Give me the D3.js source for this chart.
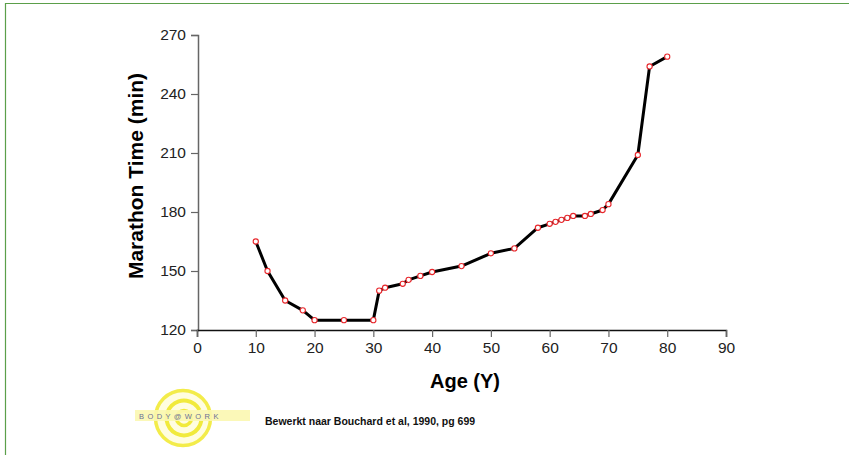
<!DOCTYPE html>
<html>
<head>
<meta charset="utf-8">
<script src="https://cdn.jsdelivr.net/npm/d3@7"></script>
<style>
  body { margin: 0; background: #fff; }
  text { font-family: "Liberation Sans", Arial, sans-serif; }
</style>
</head>
<body>
<div class="chart-area"></div>
<script>
// data
var ages = [10, 12, 15, 18, 20, 25, 30, 31, 32, 35, 36, 38, 40, 45, 50, 54, 58, 60, 61, 62, 63, 64, 66, 67, 69, 70, 75, 77, 80];
var times = [165, 150, 135, 130, 125, 125, 125, 140, 141.5, 143.5, 145.5, 147.5, 149.5, 152.5, 159, 161.5, 172, 174, 175, 176, 177, 178, 178, 179, 181, 184, 209, 254, 259];
var xTicks = [0, 10, 20, 30, 40, 50, 60, 70, 80, 90];
var yTicks = [120, 150, 180, 210, 240, 270];

var points = ages.map(function(a, i) { return {age: a, time: times[i]}; });

var svg = d3.select(".chart-area").append("svg")
    .attr("width", 849)
    .attr("height", 455);

// green frame on top and left
svg.append("line").attr("x1", 5).attr("x2", 849).attr("y1", 3.5).attr("y2", 3.5)
    .attr("stroke", "#5b9f4a").attr("stroke-width", 1.2);
svg.append("line").attr("x1", 5.5).attr("x2", 5.5).attr("y1", 3).attr("y2", 455)
    .attr("stroke", "#5b9f4a").attr("stroke-width", 1.2);

var x = d3.scaleLinear().domain([0, 90]).range([197, 726]);
var y = d3.scaleLinear().domain([120, 270]).range([330, 35]);

// y axis
var yAxis = svg.append("g")
    .attr("transform", "translate(198,0)")
    .call(d3.axisLeft(y).tickValues(yTicks).tickSize(7).tickPadding(5));
yAxis.select(".domain").attr("stroke", "#666").attr("stroke-width", 1.5);
yAxis.selectAll(".tick line").attr("stroke", "#666").attr("stroke-width", 1.2);
yAxis.selectAll(".tick text").attr("font-size", 15.5).attr("fill", "#222")
    .attr("font-family", "Liberation Sans, Arial, sans-serif");

// x axis
var xAxis = svg.append("g")
    .attr("transform", "translate(0,330)")
    .call(d3.axisBottom(x).tickValues(xTicks).tickSize(7).tickPadding(5));
xAxis.select(".domain").attr("stroke", "#111").attr("stroke-width", 1.5);
xAxis.selectAll(".tick line").attr("stroke", "#666").attr("stroke-width", 1.2);
xAxis.selectAll(".tick text").attr("font-size", 15.5).attr("fill", "#222")
    .attr("font-family", "Liberation Sans, Arial, sans-serif");

// axis titles
svg.append("text")
    .attr("x", 465).attr("y", 388)
    .attr("text-anchor", "middle")
    .attr("font-size", 20).attr("font-weight", "bold")
    .text("Age (Y)");

svg.append("text")
    .attr("transform", "translate(143,176) rotate(-90)")
    .attr("text-anchor", "middle")
    .attr("font-size", 21).attr("font-weight", "bold")
    .text("Marathon Time (min)");

// the line
var line = d3.line()
    .x(function(d) { return x(d.age); })
    .y(function(d) { return y(d.time); });

svg.append("path")
    .datum(points)
    .attr("fill", "none")
    .attr("stroke", "#000")
    .attr("stroke-width", 3)
    .attr("stroke-linejoin", "round")
    .attr("d", line);

// markers
svg.selectAll("circle.pt")
    .data(points)
    .enter()
    .append("circle")
    .attr("class", "pt")
    .attr("cx", function(d) { return x(d.age); })
    .attr("cy", function(d) { return y(d.time); })
    .attr("r", 2.6)
    .attr("fill", "#fff")
    .attr("stroke", "#e8262b")
    .attr("stroke-width", 1.1);

// logo: ring with a drawn "@" and a pale band with the name
var logo = svg.append("g");
logo.append("circle").attr("cx", 183).attr("cy", 418).attr("r", 27.5)
    .attr("fill", "#fffde0").attr("stroke", "#f3ec4a").attr("stroke-width", 3.5);
logo.append("path")
    .attr("d", d3.arc()({innerRadius: 15.5, outerRadius: 19.5, startAngle: Math.PI * 0.55, endAngle: Math.PI * 2.35}))
    .attr("transform", "translate(184,418)")
    .attr("fill", "#f1ea3c");
logo.append("circle").attr("cx", 184).attr("cy", 418).attr("r", 7.5)
    .attr("fill", "none").attr("stroke", "#f1ea3c").attr("stroke-width", 3.5);
logo.append("rect").attr("x", 135).attr("y", 410).attr("width", 115).attr("height", 11)
    .attr("fill", "#fbf7b0").attr("opacity", 0.9);
logo.append("text").attr("x", 139).attr("y", 419)
    .attr("font-size", 7.5).attr("fill", "#6b7095").attr("letter-spacing", 3.4)
    .text("BODY@WORK");

// source note
svg.append("text")
    .attr("x", 265).attr("y", 425)
    .attr("font-size", 10.5).attr("font-weight", "bold")
    .attr("fill", "#111")
    .text("Bewerkt naar Bouchard et al, 1990, pg 699");
</script>
</body>
</html>
